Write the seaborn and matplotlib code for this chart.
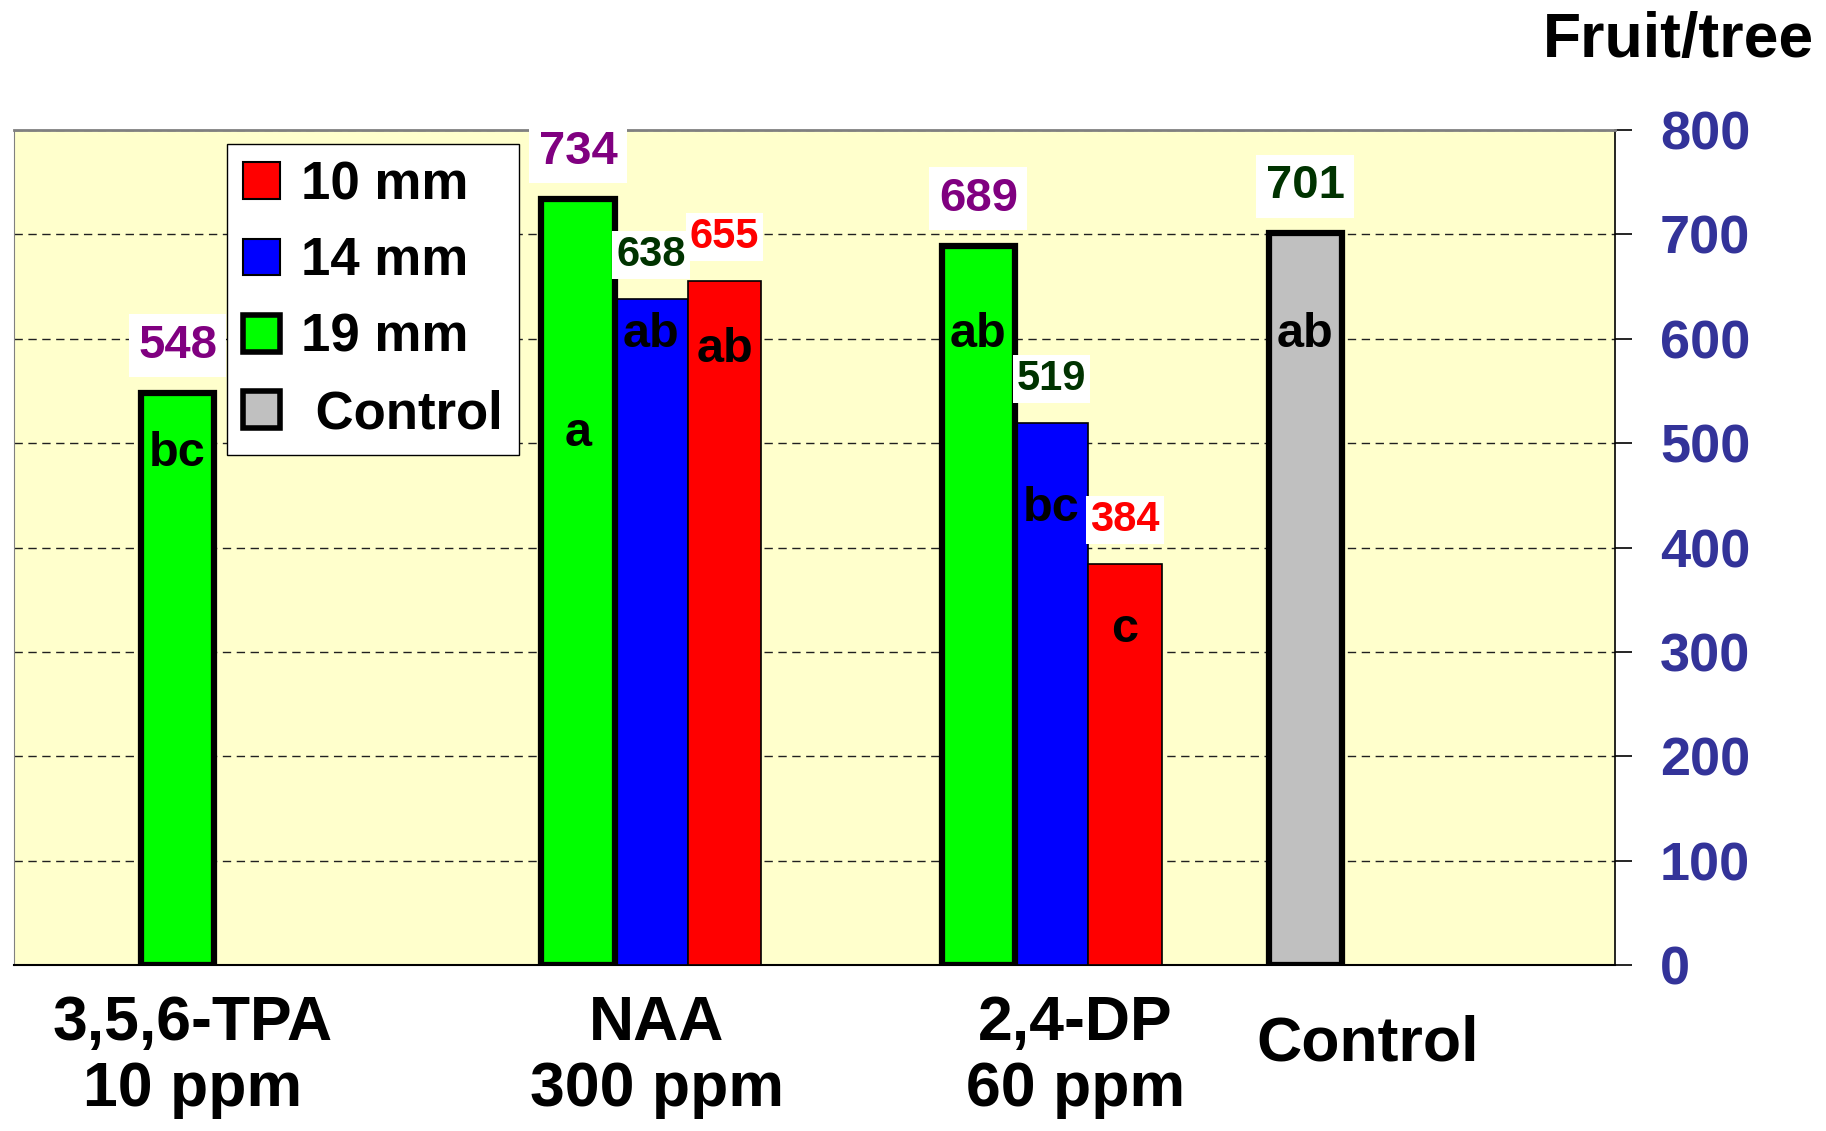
import pandas as pd
import matplotlib.pyplot as plt
import seaborn as sns
from matplotlib.patches import Patch
import matplotlib.transforms as mtransforms

# Data
categories = ['3,5,6-TPA\n10 ppm', 'NAA\n300 ppm', '2,4-DP\n60 ppm', 'Control']
fruit_control = [None, None, None, 701]
fruit_19mm = [548, 734, 689, None]
fruit_14mm = [None, 638, 519, None]
fruit_10mm = [None, 655, 384, None]
letters_control = ['', '', '', 'ab']
letters_19mm = ['bc', 'a', 'ab', '']
letters_14mm = ['', 'ab', 'bc', '']
letters_10mm = ['', 'ab', 'c', '']
legend_labels = ['10 mm', '14 mm', '19 mm', ' Control']

series_names = ['Control', '19 mm', '14 mm', '10 mm']
rows = []
for name, vals, lets in zip(series_names,
                            [fruit_control, fruit_19mm, fruit_14mm, fruit_10mm],
                            [letters_control, letters_19mm, letters_14mm, letters_10mm]):
    for cat, v, l in zip(categories, vals, lets):
        if v is not None:
            rows.append({'treatment': cat, 'series': name, 'fruit': v, 'letter': l})
df = pd.DataFrame(rows)

palette = {'Control': '#C0C0C0', '19 mm': '#00FF00', '14 mm': '#0000FF', '10 mm': '#FF0000'}

sns.set_style('white')
plt.rcParams['font.family'] = ['Liberation Sans', 'DejaVu Sans']
plt.rcParams['font.weight'] = 'bold'
plt.rcParams['text.color'] = 'black'

fig = plt.figure(figsize=(18.26, 11.31), dpi=100)
ax = fig.add_axes([0.0077, 0.1468, 0.877, 0.7382])
ax.set_facecolor('#FFFFCC')

sns.barplot(data=df, x='treatment', y='fruit', hue='series', order=categories,
            hue_order=series_names, palette=palette, width=0.733, saturation=1,
            errorbar=None, legend=False, ax=ax)

# restyle bars, add value labels and letters
label_colors = {'Control': '#003300', '19 mm': '#800080', '14 mm': '#003300', '10 mm': '#FF0000'}
label_z = {'Control': 6, '19 mm': 6, '14 mm': 6.5, '10 mm': 6}
letter_y = {(3, 0): 604, (0, 1): 490, (1, 1): 509, (2, 1): 604,
            (1, 2): 604, (2, 2): 437,
            (1, 3): 590, (2, 3): 321}
bw = 0.733 / 4
for p in list(ax.patches):
    h = p.get_height()
    if pd.isna(h) or h == 0:
        continue
    xc = p.get_x() + p.get_width() / 2
    i = int(round(xc))
    k = int(round((xc - i + 0.3665 - bw / 2) / bw))
    name = series_names[k]
    row = df[(df.treatment == categories[i]) & (df.series == name)].iloc[0]
    thick = name in ('Control', '19 mm')
    p.set_edgecolor('black')
    p.set_linewidth(4.5 if thick else 1.2)
    p.set_zorder(4 if thick else 3)
    ax.annotate(str(row.fruit), (xc, h), xytext=(0, 34 if thick else 32),
                textcoords='offset points', ha='center', va='center',
                fontsize=34 if thick else 30, fontweight='bold',
                color=label_colors[name], zorder=label_z[name],
                bbox=dict(boxstyle='square,pad=%s' % (0.2 if thick else 0.1),
                          fc='white', ec='none'))
    if row.letter:
        ax.text(xc, letter_y[(i, k)], row.letter, ha='center', va='center',
                fontsize=35, fontweight='bold', color='black', zorder=7)

# axes
ax.set_xlim(-0.5, 3.5)
ax.set_ylim(0, 800)
ax.set_xlabel('')
ax.set_ylabel('')
ax.yaxis.tick_right()
ax.set_yticks(range(0, 801, 100))
ax.tick_params(axis='y', which='major', direction='out', length=12, width=1.2,
               color='black', pad=20, labelsize=39, labelcolor='#333399')
for t in ax.get_yticklabels():
    t.set_fontweight('bold')
ax.set_xticks([-0.5, 0.5, 1.5, 2.5, 3.5])
ax.set_xticklabels([])
ax.tick_params(axis='x', direction='out', length=26, width=1, color='black')
ax.yaxis.grid(True, linestyle=(0, (6, 4)), color='#202020', linewidth=1)
ax.xaxis.grid(False)
ax.set_axisbelow(True)
ax.spines['left'].set_color('#808080')
ax.spines['top'].set_color('#808080')
ax.spines['top'].set_linewidth(2)
ax.spines['bottom'].set_color('black')
ax.spines['bottom'].set_linewidth(1.5)
ax.spines['right'].set_color('black')
ax.spines['right'].set_linewidth(1.2)

# category labels under the axis
trans = mtransforms.blended_transform_factory(ax.transData, ax.transAxes)
label_dx = [-0.055, 0.105, 0.151, -0.119]
label_y = [-0.11, -0.11, -0.11, -0.095]
for i, cat in enumerate(categories):
    ax.text(i + label_dx[i], label_y[i], cat, transform=trans, ha='center', va='center',
            fontsize=45, fontweight='bold', color='black', linespacing=1.15)

fig.text(0.919, 0.964, 'Fruit/tree', ha='center', va='center', fontsize=45,
         fontweight='bold', color='black')

# legend
handles = [Patch(facecolor='#FF0000', edgecolor='black', linewidth=1.5),
           Patch(facecolor='#0000FF', edgecolor='black', linewidth=1.5),
           Patch(facecolor='#00FF00', edgecolor='black', linewidth=4),
           Patch(facecolor='#C0C0C0', edgecolor='black', linewidth=4)]
leg = ax.legend(handles, legend_labels, loc='upper left', bbox_to_anchor=(0.133, 0.983),
                fontsize=38, frameon=True, fancybox=False, framealpha=1,
                edgecolor='black', handlelength=0.7, handleheight=0.7,
                handletextpad=0.4, labelspacing=0.5, borderpad=0.3, borderaxespad=0)
leg.get_frame().set_linewidth(1)
leg.set_zorder(10)
for t in leg.get_texts():
    t.set_fontweight('bold')
    t.set_color('black')

fig.savefig('out.png', dpi=100, facecolor='white')
